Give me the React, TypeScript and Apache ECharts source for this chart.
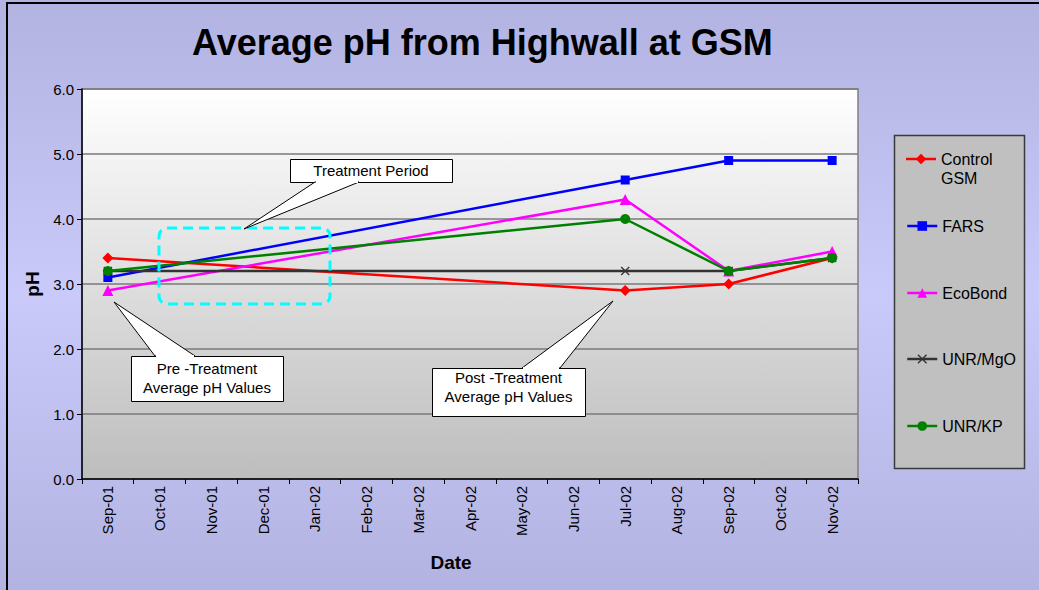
import React, { useEffect, useRef } from "react";
import * as echarts from "echarts";

const categories = [
  "Sep-01", "Oct-01", "Nov-01", "Dec-01", "Jan-02", "Feb-02", "Mar-02", "Apr-02",
  "May-02", "Jun-02", "Jul-02", "Aug-02", "Sep-02", "Oct-02", "Nov-02",
];
const controlGSM = [3.4, null, null, null, null, null, null, null, null, null, 2.9, null, 3.0, null, 3.4];
const fars = [3.1, null, null, null, null, null, null, null, null, null, 4.6, null, 4.9, null, 4.9];
const ecoBond = [2.9, null, null, null, null, null, null, null, null, null, 4.3, null, 3.2, null, 3.5];
const unrMgO = [3.2, null, null, null, null, null, null, null, null, null, 3.2, null, 3.2, null, 3.4];
const unrKP = [3.2, null, null, null, null, null, null, null, null, null, 4.0, null, 3.2, null, 3.4];
const yTicks = [0, 1, 2, 3, 4, 5, 6];
const seriesNames = ["Control GSM", "FARS", "EcoBond", "UNR/MgO", "UNR/KP"];

const FONT = '"Liberation Sans", Arial, sans-serif';
const CROSS = "path://M0,1 L1,0 L5,4 L9,0 L10,1 L6,5 L10,9 L9,10 L5,6 L1,10 L0,9 L4,5 Z";
// legend icon for the two-line entry: line + diamond in the upper part of a 30x38 box
const CONTROL_ICON =
  "path://M0,0 L0.01,0 L0.01,0.01 Z M0,8.25 L30,8.25 L30,10.75 L0,10.75 Z M15,4.2 L20.3,9.5 L15,14.8 L9.7,9.5 Z M29.99,37.99 L30,37.99 L30,38 Z";

function callout(box: { x: number; y: number; w: number; h: number }, b1: number[], b2: number[], tip: number[], text: string, cy: number) {
  return [
    {
      type: "rect",
      z: 100,
      shape: { x: box.x + 0.5, y: box.y + 0.5, width: box.w, height: box.h },
      style: { fill: "#ffffff", stroke: "#000000", lineWidth: 1 },
    },
    {
      type: "polygon",
      z: 101,
      shape: { points: [b1, tip, b2] },
      style: { fill: "#ffffff", stroke: "#000000", lineWidth: 1 },
    },
    {
      type: "line",
      z: 102,
      shape: { x1: Math.min(b1[0], b2[0]) + 1, y1: b1[1], x2: Math.max(b1[0], b2[0]) - 1, y2: b2[1] },
      style: { stroke: "#ffffff", lineWidth: 2 },
    },
    {
      type: "text",
      z: 103,
      style: {
        text,
        x: box.x + box.w / 2,
        y: cy,
        align: "center",
        verticalAlign: "middle",
        font: `15px ${FONT}`,
        lineHeight: 19,
        fill: "#000000",
      },
    },
  ];
}

export default function App() {
  const ref = useRef<HTMLDivElement>(null);
  useEffect(() => {
    if (!ref.current) return;
    const chart = echarts.init(ref.current, null, { renderer: "svg" });
    const mk = (name: string, data: any[], color: string, symbol: string, size: number) => ({
      name,
      type: "line",
      data,
      connectNulls: true,
      symbol,
      symbolSize: size,
      showSymbol: true,
      lineStyle: { color, width: 2.5 },
      itemStyle: { color },
      emphasis: { disabled: true },
    });
    const legendTops = [149.5, 216.5, 283.5, 349.5, 416.5];
    chart.setOption({
      animation: false,
      backgroundColor: {
        type: "linear", x: 0, y: 0, x2: 0, y2: 1,
        colorStops: [
          { offset: 0, color: "#b3b3e2" },
          { offset: 0.5, color: "#cacafa" },
          { offset: 1, color: "#b3b3e2" },
        ],
      },
      title: {
        text: "Average pH from Highwall at GSM",
        left: 187,
        top: 19,
        textStyle: { fontFamily: FONT, fontSize: 36, fontWeight: "bold", color: "#000" },
      },
      legend: seriesNames.map((n, i) => {
        const isControl = n === "Control GSM";
        return {
          data: [n],
          orient: "vertical",
          left: 906,
          top: legendTops[i],
          itemWidth: 30,
          itemHeight: isControl ? 38 : 12,
          itemGap: 0,
          padding: 0,
          selectedMode: false,
          icon: isControl ? CONTROL_ICON : undefined,
          lineStyle: { width: 2.5 },
          formatter: isControl ? "Control\nGSM" : "{name}",
          textStyle: {
            fontFamily: FONT,
            fontSize: 16,
            color: "#000",
            lineHeight: 19,
          },
        };
      }),
      grid: {
        left: 82, top: 89, width: 776, height: 390,
        show: true,
        borderColor: "#808080",
        borderWidth: 1.5,
        backgroundColor: {
          type: "linear", x: 0, y: 0, x2: 0, y2: 1,
          colorStops: [
            { offset: 0, color: "#ffffff" },
            { offset: 1, color: "#bdbdbd" },
          ],
        },
      },
      xAxis: {
        type: "category",
        data: categories,
        boundaryGap: true,
        name: "Date",
        nameLocation: "middle",
        nameGap: 74,
        nameTextStyle: { fontFamily: FONT, fontSize: 19, fontWeight: "bold", color: "#000", padding: [0, 38, 0, 0] },
        axisLine: { lineStyle: { color: "#000", width: 1.5 } },
        axisTick: { show: true, length: 5, lineStyle: { color: "#000" } },
        axisLabel: { rotate: 90, margin: 7, fontFamily: FONT, fontSize: 15, color: "#000", interval: 0 },
        splitLine: { show: false },
      },
      yAxis: {
        type: "value",
        min: yTicks[0],
        max: yTicks[yTicks.length - 1],
        interval: 1,
        name: "pH",
        nameLocation: "middle",
        nameGap: 38,
        nameTextStyle: { fontFamily: FONT, fontSize: 19, fontWeight: "bold", color: "#000" },
        axisLine: { show: true, lineStyle: { color: "#000", width: 1.5 } },
        axisTick: { show: true, length: 5, lineStyle: { color: "#000" } },
        axisLabel: { formatter: (v: number) => v.toFixed(1), margin: 8, fontFamily: FONT, fontSize: 15, color: "#000" },
        splitLine: { show: true, lineStyle: { color: "#7a7a7a", width: 1.5 } },
      },
      graphic: [
        {
          type: "rect",
          z: -1,
          silent: true,
          shape: { x: 7, y: 3, width: 1100, height: 700 },
          style: { fill: "none", stroke: "#000", lineWidth: 2 },
        },
        {
          type: "rect",
          z: 0,
          shape: { x: 894.5, y: 135.5, width: 130, height: 333 },
          style: { fill: "#c0c0c0", stroke: "#3a3a3a", lineWidth: 1.5 },
        },
        {
          type: "rect",
          z: 100,
          shape: { x: 159, y: 228, width: 171, height: 76, r: 8 },
          style: { fill: "none", stroke: "#00ffff", lineWidth: 3, lineDash: [10, 6] },
        },
        ...callout({ x: 290, y: 159, w: 162, h: 23 }, [315, 182], [359, 182], [244, 229], "Treatment Period", 170),
        ...callout({ x: 131, y: 356, w: 152, h: 45 }, [155, 356], [195, 356], [114, 302], "Pre -Treatment\nAverage pH Values", 378),
        ...callout({ x: 432, y: 368, w: 153, h: 48 }, [522, 368], [560, 368], [613, 301], "Post -Treatment\nAverage pH Values", 387),
      ],
      series: [
        mk("Control GSM", controlGSM, "#ff0000", "diamond", 11),
        mk("FARS", fars, "#0000ff", "rect", 9),
        mk("EcoBond", ecoBond, "#ff00ff", "triangle", 11),
        mk("UNR/MgO", unrMgO, "#333333", CROSS, 9),
        mk("UNR/KP", unrKP, "#008000", "circle", 10),
      ],
    });
    return () => chart.dispose();
  }, []);
  return (
    <div
      ref={ref}
      style={{ position: "absolute", left: 0, top: 0, width: 1039, height: 590 }}
    />
  );
}
